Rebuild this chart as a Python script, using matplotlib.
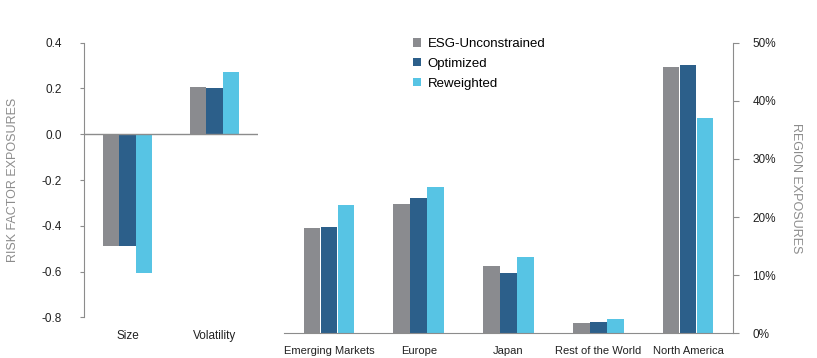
import numpy as np
import matplotlib.pyplot as plt

plt.rcParams['font.family'] = ['Liberation Sans', 'DejaVu Sans']

series = ['ESG-Unconstrained', 'Optimized', 'Reweighted']
colors = ['#8a8b8f', '#2c5f8a', '#57c4e4']

factors = ['Size', 'Volatility']
factor_vals = [
    [-0.49, 0.207],   # ESG-Unconstrained
    [-0.49, 0.203],   # Optimized
    [-0.605, 0.27],   # Reweighted
]
factor_ticks = [-0.8, -0.6, -0.4, -0.2, 0.0, 0.2, 0.4]

regions = ['Emerging Markets', 'Europe', 'Japan', 'Rest of the World', 'North America']
region_vals = [
    [18.2, 22.3, 11.6, 1.7, 45.8],
    [18.3, 23.2, 10.3, 1.9, 46.1],
    [22.0, 25.1, 13.1, 2.4, 37.0],
]
region_ticks = [0, 10, 20, 30, 40, 50]

spine_col = '#8c8c8c'
label_col = '#8c8c8c'
w = 0.185
offs = [-0.19, 0, 0.19]

fig = plt.figure(figsize=(8.17, 3.58), dpi=100)

# risk factor panel
ax1 = fig.add_axes([0.1028, 0.1137, 0.213, 0.767])
x1 = np.arange(len(factors))
for i in range(3):
    ax1.bar(x1 + offs[i], factor_vals[i], w, color=colors[i], zorder=2)
ax1.axhline(0, color=spine_col, lw=1, zorder=3)
ax1.set_xlim(-0.5, 1.5)
ax1.set_ylim(-0.8, 0.4)
ax1.set_yticks(factor_ticks)
ax1.set_yticklabels(['%.1f' % v for v in factor_ticks])
ax1.set_xticks(x1)
ax1.set_xticklabels(factors)
for s in ['top', 'right', 'bottom']:
    ax1.spines[s].set_visible(False)
ax1.spines['left'].set_color(spine_col)
ax1.tick_params(axis='y', length=3, color=spine_col, pad=13, labelsize=8.5, labelcolor='#222222')
ax1.tick_params(axis='x', length=0, pad=9, labelsize=8.5, labelcolor='#222222')
ax1.set_ylabel('RISK FACTOR EXPOSURES', color=label_col, fontsize=9, labelpad=16)

# region panel
ax2 = fig.add_axes([0.3476, 0.069, 0.5496, 0.8117])
x2 = np.arange(len(regions))
for i in range(3):
    ax2.bar(x2 + offs[i], region_vals[i], w, color=colors[i], label=series[i], zorder=2)
ax2.set_xlim(-0.5, 4.5)
ax2.set_ylim(0, 50)
ax2.set_yticks(region_ticks)
ax2.set_yticklabels(['%d%%' % v for v in region_ticks])
ax2.set_xticks(x2)
ax2.set_xticklabels(regions)
ax2.yaxis.tick_right()
ax2.yaxis.set_label_position('right')
for s in ['top', 'left']:
    ax2.spines[s].set_visible(False)
ax2.spines['right'].set_color(spine_col)
ax2.spines['bottom'].set_color(spine_col)
ax2.tick_params(axis='y', length=4, color=spine_col, pad=10, labelsize=8.5, labelcolor='#222222')
ax2.tick_params(axis='x', length=0, pad=9, labelsize=8, labelcolor='#222222')
ax2.set_ylabel('REGION EXPOSURES', color=label_col, fontsize=9, rotation=270, labelpad=19)

leg = ax2.legend(loc='upper left', bbox_to_anchor=(0.26, 1.057), frameon=False,
                 fontsize=9.5, handlelength=0.6, handleheight=0.6, handletextpad=0.55,
                 labelspacing=0.6)

fig.savefig('out.png', dpi=100)
